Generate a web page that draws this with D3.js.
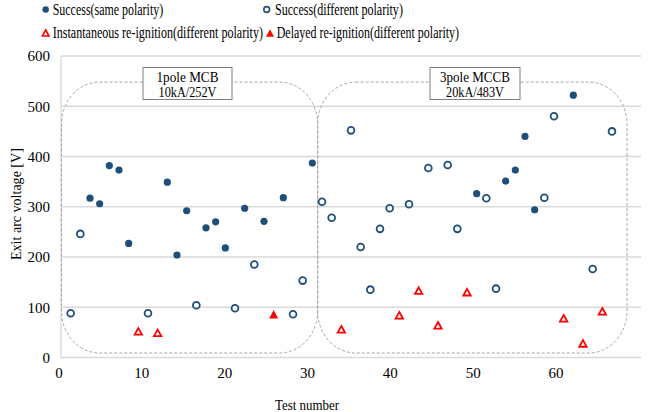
<!DOCTYPE html>
<html>
<head>
<meta charset="utf-8">
<script src="https://cdn.jsdelivr.net/npm/d3@7"></script>
<style>
  html, body { margin: 0; padding: 0; background: #fff; }
  svg { display: block; }
  svg text { font-family: "Liberation Serif", "Times New Roman", serif; fill: #000; }
</style>
</head>
<body>
<svg id="chart" width="651" height="412"></svg>
<script>
// ---- data ----
const sameX = [3,4,5,6,7,11,12,13,15,16,17,19,21,23,26,43,46,47,48,49,53];
const sameY = [317,306,382,373,227,349,204,292,258,270,218,297,271,318,387,326,351,373,440,294,522];
const diffX = [1,2,9,14,18,20,24,25,27,28,30,31,32,33,34,36,38,40,41,44,45,50,51,55,57];
const diffY = [88,246,88,104,98,185,86,153,310,278,452,220,135,256,297,305,377,383,256,317,137,318,480,176,450];
const instX = [8,10,29,35,37,39,42,52,54,56];
const instY = [52,49,56,84,133,64,130,78,28,92];
const delayX = [22];
const delayY = [86];
const xTicks = [0,10,20,30,40,50,60];
const yTicks = [0,100,200,300,400,500,600];
const legendLabels = ["Success(same polarity)", "Success(different polarity)",
  "Instantaneous re-ignition(different polarity)", "Delayed re-ignition(different polarity)"];
const groupLabels = [["1pole MCB", "10kA/252V"], ["3pole MCCB", "20kA/483V"]];
const groupRanges = [[0, 26.5], [26.5, 58.5]];

const BLUE = "#1f4e79", RED = "#ff0000", GRID = "#d9d9d9";
const FONT = "Liberation Serif";

const svg = d3.select("#chart");
const x = d3.scaleLinear().domain([0, 60]).range([61, 641]);
const xLab = d3.scaleLinear().domain([0, 60]).range([58.5, 555.5]); // tick label positions as in picture
const y = d3.scaleLinear().domain([0, 600]).range([357.5, 56]);

// text squeezed horizontally to a target width (the picture's text is narrow)
function squeezedText(parent, tx, ty, str, size, width, anchor, rotate) {
  const g = parent.append("g");
  const t = g.append("text").attr("font-family", FONT).attr("font-size", size).text(str);
  const natural = t.node().getComputedTextLength();
  const k = Math.min(1, width / natural);
  let dx = 0;
  if (anchor === "middle") dx = -natural / 2;
  t.attr("x", dx).attr("y", 0);
  g.attr("transform", `translate(${tx},${ty})` + (rotate ? ` rotate(${rotate})` : "") + ` scale(${k},1)`);
  return g;
}

// gridlines
svg.append("g").selectAll("line").data(yTicks.filter(d => d > 0)).join("line")
  .attr("x1", x(0)).attr("x2", x(60)).attr("y1", d => y(d)).attr("y2", d => y(d))
  .attr("stroke", GRID).attr("stroke-width", 1.3);
svg.append("line").attr("x1", x(0)).attr("x2", x(0)).attr("y1", y(600)).attr("y2", y(0))
  .attr("stroke", GRID).attr("stroke-width", 1.3);
svg.append("line").attr("x1", x(0)).attr("x2", x(60)).attr("y1", y(0)).attr("y2", y(0))
  .attr("stroke", GRID).attr("stroke-width", 1.3);

// y tick labels
const yAxis = d3.axisLeft(y).tickValues(yTicks).tickSize(0).tickPadding(11);
const gy = svg.append("g").attr("transform", `translate(${x(0)},0)`).call(yAxis)
  .attr("font-family", FONT).attr("font-size", 15);
gy.select(".domain").remove();
gy.selectAll("text").attr("fill", "#000");

// x tick labels
const xAxis = d3.axisBottom(xLab).tickValues(xTicks).tickSize(0).tickPadding(10);
const gx = svg.append("g").attr("transform", `translate(0,${y(0)})`).call(xAxis)
  .attr("font-family", FONT).attr("font-size", 15);
gx.select(".domain").remove();
gx.selectAll("text").attr("fill", "#000");

// axis titles
squeezedText(svg, 307, 410, "Test number", 15, 64, "middle");
squeezedText(svg, 21, 204, "Exit arc voltage [V]", 15, 112, "middle", -90);

// group dashed rounded boxes
svg.append("g").selectAll("rect").data(groupRanges).join("rect")
  .attr("x", d => x(d[0]) + 0.5).attr("width", d => x(d[1]) - x(d[0]))
  .attr("y", y(548)).attr("height", y(9) - y(548))
  .attr("rx", 38).attr("ry", 42)
  .attr("fill", "none").attr("stroke", "#a6a6a6").attr("stroke-width", 1)
  .attr("stroke-dasharray", "3,2");

// group label boxes
const boxes = [{cx: 187.5, w: 89, tw: [62, 58]}, {cx: 475, w: 90, tw: [70, 58]}];
boxes.forEach((b, i) => {
  svg.append("rect").attr("x", b.cx - b.w / 2).attr("y", 67.5).attr("width", b.w).attr("height", 32)
    .attr("fill", "#fff").attr("stroke", "#7f7f7f").attr("stroke-width", 1);
  groupLabels[i].forEach((t, j) => {
    squeezedText(svg, b.cx, 81.5 + j * 15.5, t, 15, b.tw[j], "middle");
  });
});

// markers
function triPath(cx, cy, w, h) {
  return `M${cx},${cy - h / 2}L${cx + w / 2},${cy + h / 2}L${cx - w / 2},${cy + h / 2}Z`;
}
svg.append("g").selectAll("circle").data(sameX.map((v, i) => [v, sameY[i]])).join("circle")
  .attr("cx", d => x(d[0])).attr("cy", d => y(d[1])).attr("r", 3.6).attr("fill", BLUE);
svg.append("g").selectAll("circle").data(diffX.map((v, i) => [v, diffY[i]])).join("circle")
  .attr("cx", d => x(d[0])).attr("cy", d => y(d[1])).attr("r", 3.4)
  .attr("fill", "#fff").attr("stroke", BLUE).attr("stroke-width", 1.8);
svg.append("g").selectAll("path").data(instX.map((v, i) => [v, instY[i]])).join("path")
  .attr("d", d => triPath(x(d[0]), y(d[1]), 7.4, 6.6))
  .attr("fill", "#fff").attr("stroke", RED).attr("stroke-width", 1.8);
svg.append("g").selectAll("path").data(delayX.map((v, i) => [v, delayY[i]])).join("path")
  .attr("d", d => triPath(x(d[0]), y(d[1]), 9, 8.4)).attr("fill", RED);

// legend
const leg = [
  {mx: 45.7, my: 9.5, tx: 52.7, ty: 14.5, w: 110.6, type: "fill"},
  {mx: 266.7, my: 9.5, tx: 275, ty: 14.5, w: 128, type: "open"},
  {mx: 45.7, my: 33, tx: 52.7, ty: 38, w: 210.6, type: "tri"},
  {mx: 270, my: 33, tx: 276.7, ty: 38, w: 182.6, type: "trifill"}
];
leg.forEach((l, i) => {
  if (l.type === "fill") svg.append("circle").attr("cx", l.mx).attr("cy", l.my).attr("r", 3.2).attr("fill", BLUE);
  if (l.type === "open") svg.append("circle").attr("cx", l.mx).attr("cy", l.my).attr("r", 2.9)
    .attr("fill", "#fff").attr("stroke", BLUE).attr("stroke-width", 1.6);
  if (l.type === "tri") svg.append("path").attr("d", triPath(l.mx, l.my, 6.6, 6)).attr("fill", "#fff")
    .attr("stroke", RED).attr("stroke-width", 1.6);
  if (l.type === "trifill") svg.append("path").attr("d", triPath(l.mx, l.my, 8, 7.6)).attr("fill", RED);
  squeezedText(svg, l.tx, l.ty, legendLabels[i], 16, l.w, "start");
});
</script>
</body>
</html>
